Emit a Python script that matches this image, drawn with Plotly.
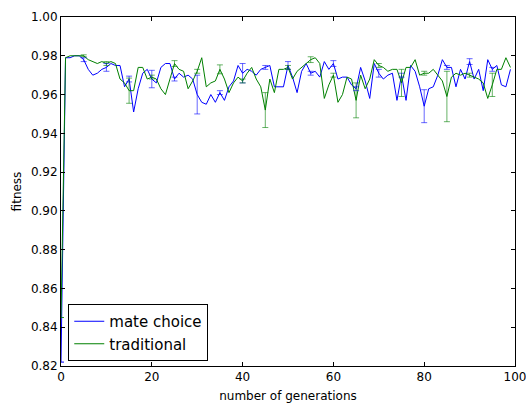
import plotly.graph_objects as go

generations = list(range(100))

mate_choice = [
    0.822, 0.979, 0.979, 0.980, 0.980, 0.978, 0.973, 0.970, 0.971, 0.973,
    0.974, 0.976, 0.975, 0.975, 0.964, 0.968, 0.951, 0.963, 0.971, 0.973,
    0.968, 0.966, 0.974, 0.976, 0.976, 0.968, 0.971, 0.969, 0.970, 0.968,
    0.960, 0.956, 0.955, 0.960, 0.956, 0.961, 0.957, 0.964, 0.967, 0.975,
    0.971, 0.973, 0.972, 0.970, 0.973, 0.974, 0.975, 0.964, 0.964, 0.964,
    0.975, 0.969, 0.961, 0.972, 0.976, 0.971, 0.972, 0.969, 0.977, 0.973,
    0.976, 0.968, 0.969, 0.969, 0.965, 0.963, 0.974, 0.967, 0.958, 0.976,
    0.971, 0.968, 0.970, 0.971, 0.957, 0.970, 0.957, 0.975, 0.972, 0.964,
    0.954, 0.963, 0.964, 0.970, 0.978, 0.974, 0.974, 0.964, 0.973, 0.968,
    0.977, 0.968, 0.973, 0.962, 0.978, 0.973, 0.975, 0.965, 0.964, 0.973,
]

traditional = [
    0.845, 0.979, 0.980, 0.980, 0.980, 0.980, 0.978, 0.977, 0.976, 0.977,
    0.976, 0.977, 0.976, 0.968, 0.966, 0.962, 0.962, 0.974, 0.974, 0.968,
    0.969, 0.968, 0.963, 0.960, 0.968, 0.976, 0.973, 0.972, 0.963, 0.967,
    0.972, 0.979, 0.964, 0.966, 0.967, 0.973, 0.968, 0.961, 0.966, 0.969,
    0.967, 0.971, 0.974, 0.968, 0.964, 0.952, 0.968, 0.961, 0.973, 0.973,
    0.974, 0.968, 0.972, 0.974, 0.976, 0.978, 0.979, 0.976, 0.958, 0.965,
    0.970, 0.956, 0.960, 0.969, 0.968, 0.957, 0.970, 0.963, 0.968, 0.978,
    0.975, 0.974, 0.972, 0.973, 0.973, 0.966, 0.974, 0.974, 0.978, 0.970,
    0.971, 0.971, 0.973, 0.970, 0.967, 0.959, 0.969, 0.971, 0.970, 0.971,
    0.970, 0.969, 0.968, 0.966, 0.958, 0.965, 0.973, 0.973, 0.979, 0.974,
]

err_generations = list(range(0, 100, 5))
mate_choice_err = [0.0, 0.001, 0.002, 0.0015, 0.0045, 0.001, 0.010, 0.001, 0.005, 0.001,
                   0.002, 0.001, 0.0015, 0.001, 0.002, 0.001, 0.0085, 0.001, 0.0015, 0.001]
traditional_err = [0.0, 0.0005, 0.001, 0.0065, 0.001, 0.0015, 0.001, 0.0023, 0.001, 0.009,
                   0.001, 0.0015, 0.001, 0.009, 0.001, 0.007, 0.001, 0.013, 0.001, 0.006]

x_ticks = [0, 20, 40, 60, 80, 100]
y_ticks = [0.82, 0.84, 0.86, 0.88, 0.90, 0.92, 0.94, 0.96, 0.98, 1.00]

BLUE = "#0000ff"
GREEN = "#008000"

fig = go.Figure()
fig.add_trace(go.Scatter(x=generations, y=mate_choice, mode="lines", name="mate choice",
                         line=dict(color=BLUE, width=1)))
fig.add_trace(go.Scatter(x=generations, y=traditional, mode="lines", name="traditional",
                         line=dict(color=GREEN, width=1)))
fig.add_trace(go.Scatter(x=err_generations, y=[mate_choice[g] for g in err_generations],
                         mode="markers", marker=dict(size=1, opacity=0), showlegend=False,
                         hoverinfo="skip",
                         error_y=dict(type="data", array=mate_choice_err, visible=True,
                                      color="rgba(0,0,255,0.6)", thickness=1, width=3)))
fig.add_trace(go.Scatter(x=err_generations, y=[traditional[g] for g in err_generations],
                         mode="markers", marker=dict(size=1, opacity=0), showlegend=False,
                         hoverinfo="skip",
                         error_y=dict(type="data", array=traditional_err, visible=True,
                                      color="rgba(0,128,0,0.6)", thickness=1, width=3)))

axis_common = dict(showline=True, linecolor="black", linewidth=1, mirror="ticks",
                   ticks="inside", ticklen=4, tickcolor="black", showgrid=False,
                   zeroline=False, automargin=False, ticklabeloverflow="allow",
                   tickfont=dict(family="DejaVu Sans", size=12, color="black"))

fig.update_xaxes(range=[0, 100], tickvals=x_ticks, ticktext=[str(v) for v in x_ticks],
                 title=dict(text="number of generations", font=dict(family="DejaVu Sans", size=12, color="black"),
                            standoff=9),
                 **axis_common)
fig.update_yaxes(range=[0.82, 1.00], tickvals=y_ticks, ticktext=[f"{v:.2f}" for v in y_ticks],
                 title=dict(text="fitness", font=dict(family="DejaVu Sans", size=12, color="black"),
                            standoff=6),
                 **axis_common)

fig.update_layout(
    width=526, height=403,
    margin=dict(l=61, r=11, t=17, b=37),
    paper_bgcolor="white", plot_bgcolor="white",
    font=dict(family="DejaVu Sans", color="black"),
    legend=dict(x=0.016, y=0.0143, xanchor="left", yanchor="bottom",
                bordercolor="black", borderwidth=1, bgcolor="white",
                font=dict(family="DejaVu Sans", size=15, color="black"),
                itemwidth=30, tracegroupgap=0),
)

fig.write_html("out.html")
